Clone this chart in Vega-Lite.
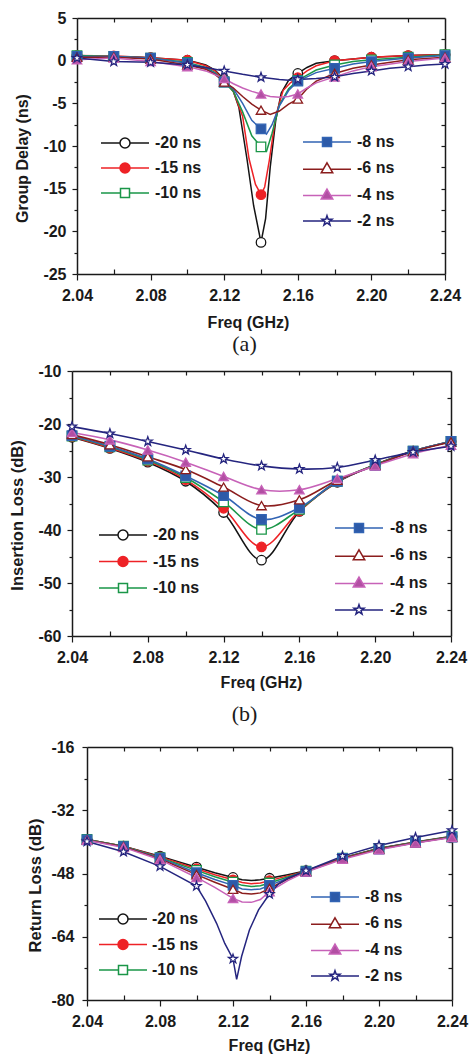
{
"$schema": "https://vega.github.io/schema/vega-lite/v6.json",
"width": 469, "height": 1057, "autosize": {"type": "none"}, "padding": 0,
"background": "white",
"config": {
  "view": {"stroke": null},
  "locale": {"number": {"decimal": ".", "thousands": ",", "grouping": [3], "currency": ["$", ""], "minus": "-"}},
  "axis": {"labelFont": "Liberation Sans", "labelFontWeight": "bold", "labelFontSize": 16, "labelColor": "#1a1a1a",
           "titleFont": "Liberation Sans", "titleFontWeight": "bold", "titleFontSize": 16, "titleColor": "#1a1a1a",
           "tickColor": "#1a1a1a", "domainColor": "#1a1a1a", "domainWidth": 1.5, "tickWidth": 1.2, "grid": false,
           "labelFlush": false, "labelOverlap": false},
  "legend": {"labelFont": "Liberation Sans", "labelFontWeight": "bold", "labelFontSize": 16, "labelColor": "#1a1a1a", "padding": 0, "symbolStrokeWidth": 1.5}
},
"datasets": {
"A": [
{"s":"-20 ns","f":2.04,"v":0.6},{"s":"-20 ns","f":2.05,"v":0.5},{"s":"-20 ns","f":2.06,"v":0.5},{"s":"-20 ns","f":2.07,"v":0.45},{"s":"-20 ns","f":2.08,"v":0.35},{"s":"-20 ns","f":2.09,"v":0.2},{"s":"-20 ns","f":2.1,"v":0.05},{"s":"-20 ns","f":2.105,"v":-0.2},{"s":"-20 ns","f":2.11,"v":-0.5},{"s":"-20 ns","f":2.115,"v":-1.1},{"s":"-20 ns","f":2.12,"v":-2.2},{"s":"-20 ns","f":2.125,"v":-3.6},{"s":"-20 ns","f":2.128,"v":-5.5},{"s":"-20 ns","f":2.1325,"v":-11.7},{"s":"-20 ns","f":2.136,"v":-17},{"s":"-20 ns","f":2.14,"v":-21.3},{"s":"-20 ns","f":2.1425,"v":-18.5},{"s":"-20 ns","f":2.145,"v":-12.5},{"s":"-20 ns","f":2.148,"v":-7},{"s":"-20 ns","f":2.151,"v":-3.8},{"s":"-20 ns","f":2.155,"v":-2.3},{"s":"-20 ns","f":2.16,"v":-1.5},{"s":"-20 ns","f":2.165,"v":-0.8},{"s":"-20 ns","f":2.17,"v":-0.3},{"s":"-20 ns","f":2.18,"v":0},{"s":"-20 ns","f":2.19,"v":0.2},{"s":"-20 ns","f":2.2,"v":0.4},{"s":"-20 ns","f":2.21,"v":0.5},{"s":"-20 ns","f":2.22,"v":0.6},{"s":"-20 ns","f":2.23,"v":0.65},{"s":"-20 ns","f":2.24,"v":0.7},
{"s":"-15 ns","f":2.04,"v":0.6},{"s":"-15 ns","f":2.06,"v":0.55},{"s":"-15 ns","f":2.08,"v":0.35},{"s":"-15 ns","f":2.09,"v":0.2},{"s":"-15 ns","f":2.1,"v":0.05},{"s":"-15 ns","f":2.11,"v":-0.6},{"s":"-15 ns","f":2.115,"v":-1.2},{"s":"-15 ns","f":2.12,"v":-2.4},{"s":"-15 ns","f":2.125,"v":-3.6},{"s":"-15 ns","f":2.13,"v":-6.5},{"s":"-15 ns","f":2.1335,"v":-11.5},{"s":"-15 ns","f":2.137,"v":-14.5},{"s":"-15 ns","f":2.14,"v":-15.7},{"s":"-15 ns","f":2.142,"v":-14.8},{"s":"-15 ns","f":2.1445,"v":-11.7},{"s":"-15 ns","f":2.148,"v":-6.5},{"s":"-15 ns","f":2.152,"v":-3.5},{"s":"-15 ns","f":2.156,"v":-2.6},{"s":"-15 ns","f":2.16,"v":-2.0},{"s":"-15 ns","f":2.165,"v":-1.2},{"s":"-15 ns","f":2.17,"v":-0.6},{"s":"-15 ns","f":2.18,"v":0},{"s":"-15 ns","f":2.19,"v":0.2},{"s":"-15 ns","f":2.2,"v":0.4},{"s":"-15 ns","f":2.22,"v":0.6},{"s":"-15 ns","f":2.24,"v":0.7},
{"s":"-10 ns","f":2.04,"v":0.6},{"s":"-10 ns","f":2.06,"v":0.5},{"s":"-10 ns","f":2.08,"v":0.3},{"s":"-10 ns","f":2.1,"v":-0.2},{"s":"-10 ns","f":2.11,"v":-0.8},{"s":"-10 ns","f":2.115,"v":-1.4},{"s":"-10 ns","f":2.12,"v":-2.5},{"s":"-10 ns","f":2.125,"v":-3.6},{"s":"-10 ns","f":2.13,"v":-6},{"s":"-10 ns","f":2.135,"v":-8.8},{"s":"-10 ns","f":2.14,"v":-10.1},{"s":"-10 ns","f":2.143,"v":-10.6},{"s":"-10 ns","f":2.146,"v":-8.5},{"s":"-10 ns","f":2.15,"v":-5.2},{"s":"-10 ns","f":2.155,"v":-3.3},{"s":"-10 ns","f":2.16,"v":-2.3},{"s":"-10 ns","f":2.165,"v":-1.7},{"s":"-10 ns","f":2.17,"v":-1.1},{"s":"-10 ns","f":2.18,"v":-0.5},{"s":"-10 ns","f":2.19,"v":-0.1},{"s":"-10 ns","f":2.2,"v":0.1},{"s":"-10 ns","f":2.22,"v":0.4},{"s":"-10 ns","f":2.24,"v":0.7},
{"s":"-8 ns","f":2.04,"v":0.5},{"s":"-8 ns","f":2.06,"v":0.5},{"s":"-8 ns","f":2.08,"v":0.3},{"s":"-8 ns","f":2.1,"v":-0.3},{"s":"-8 ns","f":2.11,"v":-0.9},{"s":"-8 ns","f":2.115,"v":-1.5},{"s":"-8 ns","f":2.12,"v":-2.5},{"s":"-8 ns","f":2.125,"v":-3.3},{"s":"-8 ns","f":2.13,"v":-5},{"s":"-8 ns","f":2.135,"v":-7},{"s":"-8 ns","f":2.14,"v":-8},{"s":"-8 ns","f":2.143,"v":-8.6},{"s":"-8 ns","f":2.146,"v":-7.5},{"s":"-8 ns","f":2.15,"v":-5.3},{"s":"-8 ns","f":2.155,"v":-3.5},{"s":"-8 ns","f":2.16,"v":-2.4},{"s":"-8 ns","f":2.165,"v":-1.9},{"s":"-8 ns","f":2.17,"v":-1.4},{"s":"-8 ns","f":2.18,"v":-0.9},{"s":"-8 ns","f":2.19,"v":-0.4},{"s":"-8 ns","f":2.2,"v":-0.1},{"s":"-8 ns","f":2.22,"v":0.3},{"s":"-8 ns","f":2.24,"v":0.6},
{"s":"-6 ns","f":2.04,"v":0.4},{"s":"-6 ns","f":2.06,"v":0.4},{"s":"-6 ns","f":2.08,"v":0.2},{"s":"-6 ns","f":2.1,"v":-0.5},{"s":"-6 ns","f":2.11,"v":-1},{"s":"-6 ns","f":2.115,"v":-1.6},{"s":"-6 ns","f":2.12,"v":-2.5},{"s":"-6 ns","f":2.125,"v":-3.2},{"s":"-6 ns","f":2.13,"v":-4.2},{"s":"-6 ns","f":2.135,"v":-5.1},{"s":"-6 ns","f":2.14,"v":-5.8},{"s":"-6 ns","f":2.145,"v":-6.3},{"s":"-6 ns","f":2.15,"v":-5.9},{"s":"-6 ns","f":2.155,"v":-5.1},{"s":"-6 ns","f":2.16,"v":-4.5},{"s":"-6 ns","f":2.165,"v":-3.3},{"s":"-6 ns","f":2.17,"v":-2.4},{"s":"-6 ns","f":2.18,"v":-1.5},{"s":"-6 ns","f":2.19,"v":-0.9},{"s":"-6 ns","f":2.2,"v":-0.5},{"s":"-6 ns","f":2.22,"v":0.1},{"s":"-6 ns","f":2.24,"v":0.4},
{"s":"-4 ns","f":2.04,"v":0.1},{"s":"-4 ns","f":2.06,"v":0.3},{"s":"-4 ns","f":2.08,"v":-0.1},{"s":"-4 ns","f":2.1,"v":-0.7},{"s":"-4 ns","f":2.11,"v":-1.2},{"s":"-4 ns","f":2.12,"v":-2.1},{"s":"-4 ns","f":2.125,"v":-2.7},{"s":"-4 ns","f":2.13,"v":-3.2},{"s":"-4 ns","f":2.135,"v":-3.6},{"s":"-4 ns","f":2.14,"v":-3.9},{"s":"-4 ns","f":2.145,"v":-4.2},{"s":"-4 ns","f":2.15,"v":-4.3},{"s":"-4 ns","f":2.155,"v":-4.2},{"s":"-4 ns","f":2.16,"v":-3.9},{"s":"-4 ns","f":2.165,"v":-3.2},{"s":"-4 ns","f":2.17,"v":-2.6},{"s":"-4 ns","f":2.18,"v":-1.9},{"s":"-4 ns","f":2.19,"v":-1.2},{"s":"-4 ns","f":2.2,"v":-0.7},{"s":"-4 ns","f":2.22,"v":-0.1},{"s":"-4 ns","f":2.24,"v":0.3},
{"s":"-2 ns","f":2.04,"v":0.3},{"s":"-2 ns","f":2.06,"v":-0.1},{"s":"-2 ns","f":2.08,"v":-0.2},{"s":"-2 ns","f":2.1,"v":-0.5},{"s":"-2 ns","f":2.11,"v":-0.8},{"s":"-2 ns","f":2.12,"v":-1.2},{"s":"-2 ns","f":2.13,"v":-1.6},{"s":"-2 ns","f":2.14,"v":-1.95},{"s":"-2 ns","f":2.15,"v":-2.2},{"s":"-2 ns","f":2.155,"v":-2.3},{"s":"-2 ns","f":2.16,"v":-2.2},{"s":"-2 ns","f":2.17,"v":-2.1},{"s":"-2 ns","f":2.18,"v":-1.9},{"s":"-2 ns","f":2.19,"v":-1.5},{"s":"-2 ns","f":2.2,"v":-1.2},{"s":"-2 ns","f":2.21,"v":-0.9},{"s":"-2 ns","f":2.22,"v":-0.7},{"s":"-2 ns","f":2.23,"v":-0.5},{"s":"-2 ns","f":2.24,"v":-0.4}
],
"B": [
{"s":"-20 ns","f":2.04,"v":-22.5},{"s":"-20 ns","f":2.06,"v":-24.6},{"s":"-20 ns","f":2.08,"v":-27.2},{"s":"-20 ns","f":2.1,"v":-30.8},{"s":"-20 ns","f":2.12,"v":-36.7},{"s":"-20 ns","f":2.14,"v":-45.7},{"s":"-20 ns","f":2.16,"v":-36.5},{"s":"-20 ns","f":2.18,"v":-31.0},{"s":"-20 ns","f":2.2,"v":-27.7},{"s":"-20 ns","f":2.22,"v":-25.1},{"s":"-20 ns","f":2.24,"v":-23.3},
{"s":"-15 ns","f":2.04,"v":-22.4},{"s":"-15 ns","f":2.06,"v":-24.5},{"s":"-15 ns","f":2.08,"v":-27.0},{"s":"-15 ns","f":2.1,"v":-30.5},{"s":"-15 ns","f":2.12,"v":-35.9},{"s":"-15 ns","f":2.14,"v":-43.2},{"s":"-15 ns","f":2.16,"v":-36.4},{"s":"-15 ns","f":2.18,"v":-30.9},{"s":"-15 ns","f":2.2,"v":-27.7},{"s":"-15 ns","f":2.22,"v":-25.1},{"s":"-15 ns","f":2.24,"v":-23.3},
{"s":"-10 ns","f":2.04,"v":-22.3},{"s":"-10 ns","f":2.06,"v":-24.3},{"s":"-10 ns","f":2.08,"v":-26.8},{"s":"-10 ns","f":2.1,"v":-30.1},{"s":"-10 ns","f":2.12,"v":-34.7},{"s":"-10 ns","f":2.14,"v":-39.9},{"s":"-10 ns","f":2.16,"v":-36.1},{"s":"-10 ns","f":2.18,"v":-30.8},{"s":"-10 ns","f":2.2,"v":-27.7},{"s":"-10 ns","f":2.22,"v":-25.1},{"s":"-10 ns","f":2.24,"v":-23.3},
{"s":"-8 ns","f":2.04,"v":-22.2},{"s":"-8 ns","f":2.06,"v":-24.2},{"s":"-8 ns","f":2.08,"v":-26.6},{"s":"-8 ns","f":2.1,"v":-29.8},{"s":"-8 ns","f":2.12,"v":-33.5},{"s":"-8 ns","f":2.14,"v":-38.0},{"s":"-8 ns","f":2.16,"v":-35.8},{"s":"-8 ns","f":2.18,"v":-30.8},{"s":"-8 ns","f":2.2,"v":-27.8},{"s":"-8 ns","f":2.22,"v":-25.1},{"s":"-8 ns","f":2.24,"v":-23.3},
{"s":"-6 ns","f":2.04,"v":-22.0},{"s":"-6 ns","f":2.06,"v":-23.9},{"s":"-6 ns","f":2.08,"v":-26.2},{"s":"-6 ns","f":2.1,"v":-28.6},{"s":"-6 ns","f":2.12,"v":-31.9},{"s":"-6 ns","f":2.14,"v":-35.4},{"s":"-6 ns","f":2.16,"v":-34.3},{"s":"-6 ns","f":2.18,"v":-30.6},{"s":"-6 ns","f":2.2,"v":-27.8},{"s":"-6 ns","f":2.22,"v":-25.2},{"s":"-6 ns","f":2.24,"v":-23.4},
{"s":"-4 ns","f":2.04,"v":-21.6},{"s":"-4 ns","f":2.06,"v":-23.0},{"s":"-4 ns","f":2.08,"v":-24.9},{"s":"-4 ns","f":2.1,"v":-27.2},{"s":"-4 ns","f":2.12,"v":-29.9},{"s":"-4 ns","f":2.14,"v":-32.4},{"s":"-4 ns","f":2.16,"v":-32.4},{"s":"-4 ns","f":2.18,"v":-30.3},{"s":"-4 ns","f":2.2,"v":-27.9},{"s":"-4 ns","f":2.22,"v":-25.6},{"s":"-4 ns","f":2.24,"v":-24.0},
{"s":"-2 ns","f":2.04,"v":-20.5},{"s":"-2 ns","f":2.06,"v":-21.8},{"s":"-2 ns","f":2.08,"v":-23.3},{"s":"-2 ns","f":2.1,"v":-24.9},{"s":"-2 ns","f":2.12,"v":-26.6},{"s":"-2 ns","f":2.14,"v":-27.9},{"s":"-2 ns","f":2.16,"v":-28.5},{"s":"-2 ns","f":2.18,"v":-28.2},{"s":"-2 ns","f":2.2,"v":-26.8},{"s":"-2 ns","f":2.22,"v":-25.3},{"s":"-2 ns","f":2.24,"v":-24.2}
],
"C": [
{"s":"-20 ns","f":2.04,"v":-39.4},{"s":"-20 ns","f":2.06,"v":-41.1},{"s":"-20 ns","f":2.08,"v":-43.6},{"s":"-20 ns","f":2.1,"v":-46.4},{"s":"-20 ns","f":2.11,"v":-47.8},{"s":"-20 ns","f":2.12,"v":-49.0},{"s":"-20 ns","f":2.125,"v":-49.6},{"s":"-20 ns","f":2.13,"v":-49.8},{"s":"-20 ns","f":2.135,"v":-49.6},{"s":"-20 ns","f":2.14,"v":-49.2},{"s":"-20 ns","f":2.15,"v":-48.3},{"s":"-20 ns","f":2.16,"v":-47.3},{"s":"-20 ns","f":2.18,"v":-44.1},{"s":"-20 ns","f":2.2,"v":-41.6},{"s":"-20 ns","f":2.22,"v":-40.0},{"s":"-20 ns","f":2.24,"v":-38.6},
{"s":"-15 ns","f":2.04,"v":-39.4},{"s":"-15 ns","f":2.06,"v":-41.1},{"s":"-15 ns","f":2.08,"v":-43.8},{"s":"-15 ns","f":2.1,"v":-46.8},{"s":"-15 ns","f":2.11,"v":-48.3},{"s":"-15 ns","f":2.12,"v":-49.6},{"s":"-15 ns","f":2.125,"v":-50.3},{"s":"-15 ns","f":2.13,"v":-50.6},{"s":"-15 ns","f":2.135,"v":-50.4},{"s":"-15 ns","f":2.14,"v":-49.8},{"s":"-15 ns","f":2.15,"v":-48.6},{"s":"-15 ns","f":2.16,"v":-47.4},{"s":"-15 ns","f":2.18,"v":-44.1},{"s":"-15 ns","f":2.2,"v":-41.7},{"s":"-15 ns","f":2.22,"v":-40.1},{"s":"-15 ns","f":2.24,"v":-38.7},
{"s":"-10 ns","f":2.04,"v":-39.4},{"s":"-10 ns","f":2.06,"v":-41.1},{"s":"-10 ns","f":2.08,"v":-44.0},{"s":"-10 ns","f":2.1,"v":-47.2},{"s":"-10 ns","f":2.11,"v":-48.8},{"s":"-10 ns","f":2.12,"v":-50.2},{"s":"-10 ns","f":2.125,"v":-51.0},{"s":"-10 ns","f":2.13,"v":-51.3},{"s":"-10 ns","f":2.135,"v":-51.1},{"s":"-10 ns","f":2.14,"v":-50.4},{"s":"-10 ns","f":2.15,"v":-48.9},{"s":"-10 ns","f":2.16,"v":-47.4},{"s":"-10 ns","f":2.18,"v":-44.1},{"s":"-10 ns","f":2.2,"v":-41.7},{"s":"-10 ns","f":2.22,"v":-40.1},{"s":"-10 ns","f":2.24,"v":-38.7},
{"s":"-8 ns","f":2.04,"v":-39.5},{"s":"-8 ns","f":2.06,"v":-41.2},{"s":"-8 ns","f":2.08,"v":-44.1},{"s":"-8 ns","f":2.1,"v":-47.8},{"s":"-8 ns","f":2.11,"v":-49.5},{"s":"-8 ns","f":2.12,"v":-51.0},{"s":"-8 ns","f":2.125,"v":-51.9},{"s":"-8 ns","f":2.13,"v":-52.1},{"s":"-8 ns","f":2.135,"v":-51.9},{"s":"-8 ns","f":2.14,"v":-51.0},{"s":"-8 ns","f":2.15,"v":-49.2},{"s":"-8 ns","f":2.16,"v":-47.5},{"s":"-8 ns","f":2.18,"v":-44.2},{"s":"-8 ns","f":2.2,"v":-41.8},{"s":"-8 ns","f":2.22,"v":-40.2},{"s":"-8 ns","f":2.24,"v":-38.8},
{"s":"-6 ns","f":2.04,"v":-39.5},{"s":"-6 ns","f":2.06,"v":-41.2},{"s":"-6 ns","f":2.08,"v":-44.3},{"s":"-6 ns","f":2.1,"v":-48.3},{"s":"-6 ns","f":2.11,"v":-50.2},{"s":"-6 ns","f":2.12,"v":-52.0},{"s":"-6 ns","f":2.125,"v":-53.0},{"s":"-6 ns","f":2.13,"v":-53.2},{"s":"-6 ns","f":2.135,"v":-52.9},{"s":"-6 ns","f":2.14,"v":-51.8},{"s":"-6 ns","f":2.15,"v":-49.4},{"s":"-6 ns","f":2.16,"v":-47.5},{"s":"-6 ns","f":2.18,"v":-44.2},{"s":"-6 ns","f":2.2,"v":-41.8},{"s":"-6 ns","f":2.22,"v":-40.2},{"s":"-6 ns","f":2.24,"v":-38.8},
{"s":"-4 ns","f":2.04,"v":-39.6},{"s":"-4 ns","f":2.06,"v":-41.4},{"s":"-4 ns","f":2.08,"v":-44.5},{"s":"-4 ns","f":2.1,"v":-49.0},{"s":"-4 ns","f":2.11,"v":-51.5},{"s":"-4 ns","f":2.12,"v":-54.3},{"s":"-4 ns","f":2.125,"v":-55.2},{"s":"-4 ns","f":2.13,"v":-55.3},{"s":"-4 ns","f":2.135,"v":-54.6},{"s":"-4 ns","f":2.14,"v":-52.6},{"s":"-4 ns","f":2.15,"v":-49.8},{"s":"-4 ns","f":2.16,"v":-47.6},{"s":"-4 ns","f":2.18,"v":-44.4},{"s":"-4 ns","f":2.2,"v":-42.0},{"s":"-4 ns","f":2.22,"v":-40.3},{"s":"-4 ns","f":2.24,"v":-38.9},
{"s":"-2 ns","f":2.04,"v":-39.9},{"s":"-2 ns","f":2.06,"v":-42.5},{"s":"-2 ns","f":2.08,"v":-46.2},{"s":"-2 ns","f":2.1,"v":-51.2},{"s":"-2 ns","f":2.105,"v":-55.0},{"s":"-2 ns","f":2.111,"v":-60.6},{"s":"-2 ns","f":2.1155,"v":-65.7},{"s":"-2 ns","f":2.12,"v":-69.6},{"s":"-2 ns","f":2.122,"v":-74.8},{"s":"-2 ns","f":2.1247,"v":-69.0},{"s":"-2 ns","f":2.129,"v":-62.3},{"s":"-2 ns","f":2.134,"v":-57.2},{"s":"-2 ns","f":2.14,"v":-53.2},{"s":"-2 ns","f":2.145,"v":-50.6},{"s":"-2 ns","f":2.15,"v":-49.2},{"s":"-2 ns","f":2.16,"v":-47.3},{"s":"-2 ns","f":2.18,"v":-43.6},{"s":"-2 ns","f":2.2,"v":-40.9},{"s":"-2 ns","f":2.22,"v":-38.9},{"s":"-2 ns","f":2.24,"v":-37.1}
]
},
"layer": [
{
 "data": {"name": "A"},
 "layer": [
  {"layer": [
    {"mark": {"type": "line", "strokeWidth": 1.5},
     "encoding": {
      "x": {"field": "f", "type": "quantitative", "scale": {"domain": [2.04, 2.24], "range": [77, 445], "nice": false, "zero": false}, "axis": null},
      "y": {"field": "v", "type": "quantitative", "scale": {"domain": [-25, 5], "range": [274, 18], "nice": false, "zero": false}, "axis": null},
      "stroke": {"field": "s", "type": "nominal", "scale": {"domain": ["-20 ns","-15 ns","-10 ns","-8 ns","-6 ns","-4 ns","-2 ns"], "range": ["#141414","#ee2226","#1a9648","#3264b4","#8b1d1d","#c762b8","#25257f"]}, "legend": null}}},
    {"transform": [{"filter": {"field": "f", "oneOf": [2.04,2.06,2.08,2.1,2.12,2.14,2.16,2.18,2.2,2.22,2.24]}}],
     "mark": {"type": "point", "size": 90, "strokeWidth": 1.3, "opacity": 1},
     "encoding": {
      "x": {"field": "f", "type": "quantitative", "axis": null},
      "y": {"field": "v", "type": "quantitative", "axis": null},
      "stroke": {"field": "s", "type": "nominal", "legend": null},
      "fill": {"field": "s", "type": "nominal", "scale": {"domain": ["-20 ns","-15 ns","-10 ns","-8 ns","-6 ns","-4 ns","-2 ns"], "range": ["#ffffff","#ee2226","#ffffff","#2d5aa8","#ffffff","#b24fa3","#ffffff"]}, "legend": null},
      "shape": {"field": "s", "type": "nominal", "scale": {"domain": ["-20 ns","-15 ns","-10 ns","-8 ns","-6 ns","-4 ns","-2 ns"], "range": ["circle","circle","square","square","triangle-up","triangle-up","M0,-1L0.235,-0.324L0.951,-0.309L0.38,0.124L0.588,0.809L0,0.4L-0.588,0.809L-0.38,0.124L-0.951,-0.309L-0.235,-0.324Z"]}, "legend": null}}}
  ]},
  {"transform": [{"filter": "false"}],
   "mark": {"type": "point", "size": 100, "strokeWidth": 1.5, "opacity": 1},
   "encoding": {
    "stroke": {"field": "s", "type": "nominal", "scale": {"domain": ["-20 ns","-15 ns","-10 ns"], "range": ["#141414","#ee2226","#1a9648"]}, "legend": {"orient": "none", "legendX": 117, "legendY": 135, "title": null, "direction": "vertical", "labelOffset": 22, "rowPadding": 9, "symbolSize": 100}},
    "fill": {"field": "s", "type": "nominal", "scale": {"domain": ["-20 ns","-15 ns","-10 ns"], "range": ["#ffffff","#ee2226","#ffffff"]}, "legend": {"orient": "none", "legendX": 117, "legendY": 135, "title": null, "direction": "vertical", "labelOffset": 22, "rowPadding": 9, "symbolSize": 100}},
    "shape": {"field": "s", "type": "nominal", "scale": {"domain": ["-20 ns","-15 ns","-10 ns"], "range": ["M-4.8,0L-1,0M1,0L4.8,0M1,0A1,1,0,1,1,-1,0A1,1,0,1,1,1,0Z","M-4.8,0L-1,0M1,0L4.8,0M1,0A1,1,0,1,1,-1,0A1,1,0,1,1,1,0Z","M-4.8,0L-0.9,0M0.9,0L4.8,0M-0.9,-0.9L0.9,-0.9L0.9,0.9L-0.9,0.9Z"]}, "legend": {"orient": "none", "legendX": 117, "legendY": 135, "title": null, "direction": "vertical", "labelOffset": 22, "rowPadding": 9, "symbolSize": 100}}}},
  {"transform": [{"filter": "false"}],
   "mark": {"type": "point", "size": 100, "strokeWidth": 1.5, "opacity": 1},
   "encoding": {
    "stroke": {"field": "s", "type": "nominal", "scale": {"domain": ["-8 ns","-6 ns","-4 ns","-2 ns"], "range": ["#3264b4","#8b1d1d","#c762b8","#25257f"]}, "legend": {"orient": "none", "legendX": 319, "legendY": 134, "title": null, "direction": "vertical", "labelOffset": 22, "rowPadding": 9.3, "symbolSize": 100}},
    "fill": {"field": "s", "type": "nominal", "scale": {"domain": ["-8 ns","-6 ns","-4 ns","-2 ns"], "range": ["#2d5aa8","#ffffff","#b24fa3","#ffffff"]}, "legend": {"orient": "none", "legendX": 319, "legendY": 134, "title": null, "direction": "vertical", "labelOffset": 22, "rowPadding": 9.3, "symbolSize": 100}},
    "shape": {"field": "s", "type": "nominal", "scale": {"domain": ["-8 ns","-6 ns","-4 ns","-2 ns"], "range": ["M-4.8,0L-0.9,0M0.9,0L4.8,0M-0.9,-0.9L0.9,-0.9L0.9,0.9L-0.9,0.9Z","M-4.8,0.2L-0.75,0.2M0.75,0.2L4.8,0.2M0,-1.1L1.15,0.9L-1.15,0.9Z","M-4.8,0.2L-0.75,0.2M0.75,0.2L4.8,0.2M0,-1.1L1.15,0.9L-1.15,0.9Z","M-4.8,0L-0.6,0M0.6,0L4.8,0M0,-1.05L0.247,-0.34L1,-0.325L0.4,0.13L0.618,0.85L0,0.42L-0.618,0.85L-0.4,0.13L-1,-0.325L-0.247,-0.34Z"]}, "legend": {"orient": "none", "legendX": 319, "legendY": 134, "title": null, "direction": "vertical", "labelOffset": 22, "rowPadding": 9.3, "symbolSize": 100}}}},
  {"transform": [{"filter": "false"}], "mark": "point",
   "encoding": {
    "x": {"field": "f", "type": "quantitative", "axis": {"orient": "bottom", "offset": -783, "values": [2.04,2.08,2.12,2.16,2.2,2.24], "format": ".2f", "tickSize": 6, "labelPadding": 7, "title": "Freq (GHz)", "titleX": 248, "titleY": 48, "titleBaseline": "middle"}},
    "y": {"field": "v", "type": "quantitative", "axis": {"orient": "left", "offset": -77, "values": [-25,-20,-15,-10,-5,0,5], "tickSize": 5, "labelPadding": 6, "title": "Group Delay (ns)", "titleX": -55, "titleY": 158, "titleBaseline": "middle"}}}},
  {"transform": [{"filter": "false"}], "mark": "point",
   "encoding": {
    "x": {"field": "f", "type": "quantitative", "axis": {"orient": "bottom", "offset": -783, "values": [2.06,2.1,2.14,2.18,2.22], "tickSize": -5, "labels": false, "domain": false, "title": null}},
    "y": {"field": "v", "type": "quantitative", "axis": {"orient": "left", "offset": -77, "values": [-22.5,-17.5,-12.5,-7.5,-2.5,2.5], "tickSize": 3, "labels": false, "domain": false, "title": null}}}},
  {"transform": [{"filter": "false"}], "mark": "point",
   "encoding": {
    "x": {"field": "f", "type": "quantitative", "axis": {"orient": "top", "offset": -18, "values": [2.06,2.08,2.1,2.12,2.14,2.16,2.18,2.2,2.22], "tickSize": -4, "labels": false, "title": null}},
    "y": {"field": "v", "type": "quantitative", "axis": {"orient": "right", "offset": -24, "values": [-22.5,-20,-17.5,-15,-12.5,-10,-7.5,-5,-2.5,0,2.5], "tickSize": -4, "labels": false, "title": null}}}},
  {"transform": [{"filter": "false"}], "mark": "point",
   "encoding": {
    "x": {"field": "f", "type": "quantitative", "axis": {"orient": "bottom", "offset": -783, "ticks": false, "labels": false, "domain": false, "title": "(a)", "titleFont": "Liberation Serif", "titleFontWeight": "normal", "titleFontSize": 22, "titleX": 244, "titleY": 69, "titleBaseline": "middle"}},
    "y": {"field": "v", "type": "quantitative", "axis": null}}}
 ],
 "resolve": {"scale": {"stroke": "independent", "fill": "independent", "shape": "independent"}, "axis": {"x": "independent", "y": "independent"}}
},
{
 "data": {"name": "B"},
 "layer": [
  {"layer": [
    {"mark": {"type": "line", "strokeWidth": 1.6, "interpolate": "catmull-rom"},
     "encoding": {
      "x": {"field": "f", "type": "quantitative", "scale": {"domain": [2.04, 2.24], "range": [72, 451], "nice": false, "zero": false}, "axis": null},
      "y": {"field": "v", "type": "quantitative", "scale": {"domain": [-60, -10], "range": [636, 371], "nice": false, "zero": false}, "axis": null},
      "stroke": {"field": "s", "type": "nominal", "scale": {"domain": ["-20 ns","-15 ns","-10 ns","-8 ns","-6 ns","-4 ns","-2 ns"], "range": ["#141414","#ee2226","#1a9648","#3264b4","#8b1d1d","#c762b8","#25257f"]}, "legend": null}}},
    {"mark": {"type": "point", "size": 90, "strokeWidth": 1.3, "opacity": 1},
     "encoding": {
      "x": {"field": "f", "type": "quantitative", "axis": null},
      "y": {"field": "v", "type": "quantitative", "axis": null},
      "stroke": {"field": "s", "type": "nominal", "legend": null},
      "fill": {"field": "s", "type": "nominal", "scale": {"domain": ["-20 ns","-15 ns","-10 ns","-8 ns","-6 ns","-4 ns","-2 ns"], "range": ["#ffffff","#ee2226","#ffffff","#2d5aa8","#ffffff","#b24fa3","#ffffff"]}, "legend": null},
      "shape": {"field": "s", "type": "nominal", "scale": {"domain": ["-20 ns","-15 ns","-10 ns","-8 ns","-6 ns","-4 ns","-2 ns"], "range": ["circle","circle","square","square","triangle-up","triangle-up","M0,-1L0.235,-0.324L0.951,-0.309L0.38,0.124L0.588,0.809L0,0.4L-0.588,0.809L-0.38,0.124L-0.951,-0.309L-0.235,-0.324Z"]}, "legend": null}}}
  ]},
  {"transform": [{"filter": "false"}],
   "mark": {"type": "point", "size": 100, "strokeWidth": 1.5, "opacity": 1},
   "encoding": {
    "stroke": {"field": "s", "type": "nominal", "scale": {"domain": ["-20 ns","-15 ns","-10 ns"], "range": ["#141414","#ee2226","#1a9648"]}, "legend": {"orient": "none", "legendX": 115, "legendY": 527, "title": null, "direction": "vertical", "labelOffset": 22, "rowPadding": 10.5, "symbolSize": 100}},
    "fill": {"field": "s", "type": "nominal", "scale": {"domain": ["-20 ns","-15 ns","-10 ns"], "range": ["#ffffff","#ee2226","#ffffff"]}, "legend": {"orient": "none", "legendX": 115, "legendY": 527, "title": null, "direction": "vertical", "labelOffset": 22, "rowPadding": 10.5, "symbolSize": 100}},
    "shape": {"field": "s", "type": "nominal", "scale": {"domain": ["-20 ns","-15 ns","-10 ns"], "range": ["M-4.8,0L-1,0M1,0L4.8,0M1,0A1,1,0,1,1,-1,0A1,1,0,1,1,1,0Z","M-4.8,0L-1,0M1,0L4.8,0M1,0A1,1,0,1,1,-1,0A1,1,0,1,1,1,0Z","M-4.8,0L-0.9,0M0.9,0L4.8,0M-0.9,-0.9L0.9,-0.9L0.9,0.9L-0.9,0.9Z"]}, "legend": {"orient": "none", "legendX": 115, "legendY": 527, "title": null, "direction": "vertical", "labelOffset": 22, "rowPadding": 10.5, "symbolSize": 100}}}},
  {"transform": [{"filter": "false"}],
   "mark": {"type": "point", "size": 100, "strokeWidth": 1.5, "opacity": 1},
   "encoding": {
    "stroke": {"field": "s", "type": "nominal", "scale": {"domain": ["-8 ns","-6 ns","-4 ns","-2 ns"], "range": ["#3264b4","#8b1d1d","#c762b8","#25257f"]}, "legend": {"orient": "none", "legendX": 351, "legendY": 520, "title": null, "direction": "vertical", "labelOffset": 23, "rowPadding": 10.3, "symbolSize": 100}},
    "fill": {"field": "s", "type": "nominal", "scale": {"domain": ["-8 ns","-6 ns","-4 ns","-2 ns"], "range": ["#2d5aa8","#ffffff","#b24fa3","#ffffff"]}, "legend": {"orient": "none", "legendX": 351, "legendY": 520, "title": null, "direction": "vertical", "labelOffset": 23, "rowPadding": 10.3, "symbolSize": 100}},
    "shape": {"field": "s", "type": "nominal", "scale": {"domain": ["-8 ns","-6 ns","-4 ns","-2 ns"], "range": ["M-4.8,0L-0.9,0M0.9,0L4.8,0M-0.9,-0.9L0.9,-0.9L0.9,0.9L-0.9,0.9Z","M-4.8,0.2L-0.75,0.2M0.75,0.2L4.8,0.2M0,-1.1L1.15,0.9L-1.15,0.9Z","M-4.8,0.2L-0.75,0.2M0.75,0.2L4.8,0.2M0,-1.1L1.15,0.9L-1.15,0.9Z","M-4.8,0L-0.6,0M0.6,0L4.8,0M0,-1.05L0.247,-0.34L1,-0.325L0.4,0.13L0.618,0.85L0,0.42L-0.618,0.85L-0.4,0.13L-1,-0.325L-0.247,-0.34Z"]}, "legend": {"orient": "none", "legendX": 351, "legendY": 520, "title": null, "direction": "vertical", "labelOffset": 23, "rowPadding": 10.3, "symbolSize": 100}}}},
  {"transform": [{"filter": "false"}], "mark": "point",
   "encoding": {
    "x": {"field": "f", "type": "quantitative", "axis": {"orient": "bottom", "offset": -421, "values": [2.04,2.08,2.12,2.16,2.2,2.24], "format": ".2f", "tickSize": 6, "labelPadding": 7, "title": "Freq (GHz)", "titleX": 261, "titleY": 46, "titleBaseline": "middle"}},
    "y": {"field": "v", "type": "quantitative", "axis": {"orient": "left", "offset": -72, "values": [-60,-50,-40,-30,-20,-10], "tickSize": 5, "labelPadding": 6, "title": "Insertion Loss (dB)", "titleFontSize": 16.5, "titleX": -55, "titleY": 515, "titleBaseline": "middle"}}}},
  {"transform": [{"filter": "false"}], "mark": "point",
   "encoding": {
    "x": {"field": "f", "type": "quantitative", "axis": {"orient": "bottom", "offset": -421, "values": [2.06,2.1,2.14,2.18,2.22], "tickSize": -5, "labels": false, "domain": false, "title": null}},
    "y": {"field": "v", "type": "quantitative", "axis": {"orient": "left", "offset": -72, "values": [-55,-45,-35,-25,-15], "tickSize": 3, "labels": false, "domain": false, "title": null}}}},
  {"transform": [{"filter": "false"}], "mark": "point",
   "encoding": {
    "x": {"field": "f", "type": "quantitative", "axis": {"orient": "top", "offset": -371, "values": [2.06,2.08,2.1,2.12,2.14,2.16,2.18,2.2,2.22], "tickSize": -4, "labels": false, "title": null}},
    "y": {"field": "v", "type": "quantitative", "axis": {"orient": "right", "offset": -18, "values": [-55,-50,-45,-40,-35,-30,-25,-20,-15], "tickSize": -4, "labels": false, "title": null}}}},
  {"transform": [{"filter": "false"}], "mark": "point",
   "encoding": {
    "x": {"field": "f", "type": "quantitative", "axis": {"orient": "bottom", "offset": -421, "ticks": false, "labels": false, "domain": false, "title": "(b)", "titleFont": "Liberation Serif", "titleFontWeight": "normal", "titleFontSize": 22, "titleX": 244, "titleY": 77, "titleBaseline": "middle"}},
    "y": {"field": "v", "type": "quantitative", "axis": null}}}
 ],
 "resolve": {"scale": {"stroke": "independent", "fill": "independent", "shape": "independent"}, "axis": {"x": "independent", "y": "independent"}}
},
{
 "data": {"name": "C"},
 "layer": [
  {"layer": [
    {"mark": {"type": "line", "strokeWidth": 1.5},
     "encoding": {
      "x": {"field": "f", "type": "quantitative", "scale": {"domain": [2.04, 2.24], "range": [87, 452], "nice": false, "zero": false}, "axis": null},
      "y": {"field": "v", "type": "quantitative", "scale": {"domain": [-80, -16], "range": [1000, 747], "nice": false, "zero": false}, "axis": null},
      "stroke": {"field": "s", "type": "nominal", "scale": {"domain": ["-20 ns","-15 ns","-10 ns","-8 ns","-6 ns","-4 ns","-2 ns"], "range": ["#141414","#ee2226","#1a9648","#3264b4","#8b1d1d","#c762b8","#25257f"]}, "legend": null}}},
    {"transform": [{"filter": {"field": "f", "oneOf": [2.04,2.06,2.08,2.1,2.12,2.14,2.16,2.18,2.2,2.22,2.24]}}],
     "mark": {"type": "point", "size": 90, "strokeWidth": 1.3, "opacity": 1},
     "encoding": {
      "x": {"field": "f", "type": "quantitative", "axis": null},
      "y": {"field": "v", "type": "quantitative", "axis": null},
      "stroke": {"field": "s", "type": "nominal", "legend": null},
      "fill": {"field": "s", "type": "nominal", "scale": {"domain": ["-20 ns","-15 ns","-10 ns","-8 ns","-6 ns","-4 ns","-2 ns"], "range": ["#ffffff","#ee2226","#ffffff","#2d5aa8","#ffffff","#b24fa3","#ffffff"]}, "legend": null},
      "shape": {"field": "s", "type": "nominal", "scale": {"domain": ["-20 ns","-15 ns","-10 ns","-8 ns","-6 ns","-4 ns","-2 ns"], "range": ["circle","circle","square","square","triangle-up","triangle-up","M0,-1L0.235,-0.324L0.951,-0.309L0.38,0.124L0.588,0.809L0,0.4L-0.588,0.809L-0.38,0.124L-0.951,-0.309L-0.235,-0.324Z"]}, "legend": null}}}
  ]},
  {"transform": [{"filter": "false"}],
   "mark": {"type": "point", "size": 100, "strokeWidth": 1.5, "opacity": 1},
   "encoding": {
    "stroke": {"field": "s", "type": "nominal", "scale": {"domain": ["-20 ns","-15 ns","-10 ns"], "range": ["#141414","#ee2226","#1a9648"]}, "legend": {"orient": "none", "legendX": 115, "legendY": 911, "title": null, "direction": "vertical", "labelOffset": 21, "rowPadding": 9.5, "symbolSize": 100}},
    "fill": {"field": "s", "type": "nominal", "scale": {"domain": ["-20 ns","-15 ns","-10 ns"], "range": ["#ffffff","#ee2226","#ffffff"]}, "legend": {"orient": "none", "legendX": 115, "legendY": 911, "title": null, "direction": "vertical", "labelOffset": 21, "rowPadding": 9.5, "symbolSize": 100}},
    "shape": {"field": "s", "type": "nominal", "scale": {"domain": ["-20 ns","-15 ns","-10 ns"], "range": ["M-4.8,0L-1,0M1,0L4.8,0M1,0A1,1,0,1,1,-1,0A1,1,0,1,1,1,0Z","M-4.8,0L-1,0M1,0L4.8,0M1,0A1,1,0,1,1,-1,0A1,1,0,1,1,1,0Z","M-4.8,0L-0.9,0M0.9,0L4.8,0M-0.9,-0.9L0.9,-0.9L0.9,0.9L-0.9,0.9Z"]}, "legend": {"orient": "none", "legendX": 115, "legendY": 911, "title": null, "direction": "vertical", "labelOffset": 21, "rowPadding": 9.5, "symbolSize": 100}}}},
  {"transform": [{"filter": "false"}],
   "mark": {"type": "point", "size": 100, "strokeWidth": 1.5, "opacity": 1},
   "encoding": {
    "stroke": {"field": "s", "type": "nominal", "scale": {"domain": ["-8 ns","-6 ns","-4 ns","-2 ns"], "range": ["#3264b4","#8b1d1d","#c762b8","#25257f"]}, "legend": {"orient": "none", "legendX": 327, "legendY": 889, "title": null, "direction": "vertical", "labelOffset": 22, "rowPadding": 9.3, "symbolSize": 100}},
    "fill": {"field": "s", "type": "nominal", "scale": {"domain": ["-8 ns","-6 ns","-4 ns","-2 ns"], "range": ["#2d5aa8","#ffffff","#b24fa3","#ffffff"]}, "legend": {"orient": "none", "legendX": 327, "legendY": 889, "title": null, "direction": "vertical", "labelOffset": 22, "rowPadding": 9.3, "symbolSize": 100}},
    "shape": {"field": "s", "type": "nominal", "scale": {"domain": ["-8 ns","-6 ns","-4 ns","-2 ns"], "range": ["M-4.8,0L-0.9,0M0.9,0L4.8,0M-0.9,-0.9L0.9,-0.9L0.9,0.9L-0.9,0.9Z","M-4.8,0.2L-0.75,0.2M0.75,0.2L4.8,0.2M0,-1.1L1.15,0.9L-1.15,0.9Z","M-4.8,0.2L-0.75,0.2M0.75,0.2L4.8,0.2M0,-1.1L1.15,0.9L-1.15,0.9Z","M-4.8,0L-0.6,0M0.6,0L4.8,0M0,-1.05L0.247,-0.34L1,-0.325L0.4,0.13L0.618,0.85L0,0.42L-0.618,0.85L-0.4,0.13L-1,-0.325L-0.247,-0.34Z"]}, "legend": {"orient": "none", "legendX": 327, "legendY": 889, "title": null, "direction": "vertical", "labelOffset": 22, "rowPadding": 9.3, "symbolSize": 100}}}},
  {"transform": [{"filter": "false"}], "mark": "point",
   "encoding": {
    "x": {"field": "f", "type": "quantitative", "axis": {"orient": "bottom", "offset": -57, "values": [2.04,2.08,2.12,2.16,2.2,2.24], "format": ".2f", "tickSize": 6, "labelPadding": 7, "title": "Freq (GHz)", "titleX": 269, "titleY": 45, "titleBaseline": "middle"}},
    "y": {"field": "v", "type": "quantitative", "axis": {"orient": "left", "offset": -87, "values": [-80,-64,-48,-32,-16], "tickSize": 5, "labelPadding": 8, "title": "Return Loss (dB)", "titleFontSize": 16.5, "titleX": -52, "titleY": 885, "titleBaseline": "middle"}}}},
  {"transform": [{"filter": "false"}], "mark": "point",
   "encoding": {
    "x": {"field": "f", "type": "quantitative", "axis": {"orient": "bottom", "offset": -57, "values": [2.06,2.1,2.14,2.18,2.22], "tickSize": -5, "labels": false, "domain": false, "title": null}},
    "y": {"field": "v", "type": "quantitative", "axis": {"orient": "left", "offset": -87, "values": [-72,-56,-40,-24], "tickSize": 3, "labels": false, "domain": false, "title": null}}}},
  {"transform": [{"filter": "false"}], "mark": "point",
   "encoding": {
    "x": {"field": "f", "type": "quantitative", "axis": {"orient": "top", "offset": -747, "values": [2.06,2.08,2.1,2.12,2.14,2.16,2.18,2.2,2.22], "tickSize": -4, "labels": false, "title": null}},
    "y": {"field": "v", "type": "quantitative", "axis": {"orient": "right", "offset": -17, "values": [-72,-64,-56,-48,-40,-32,-24], "tickSize": -4, "labels": false, "title": null}}}}
 ],
 "resolve": {"scale": {"stroke": "independent", "fill": "independent", "shape": "independent"}, "axis": {"x": "independent", "y": "independent"}}
}
],
"resolve": {"scale": {"x": "independent", "y": "independent", "stroke": "independent", "fill": "independent", "shape": "independent"}, "axis": {"x": "independent", "y": "independent"}}
}
